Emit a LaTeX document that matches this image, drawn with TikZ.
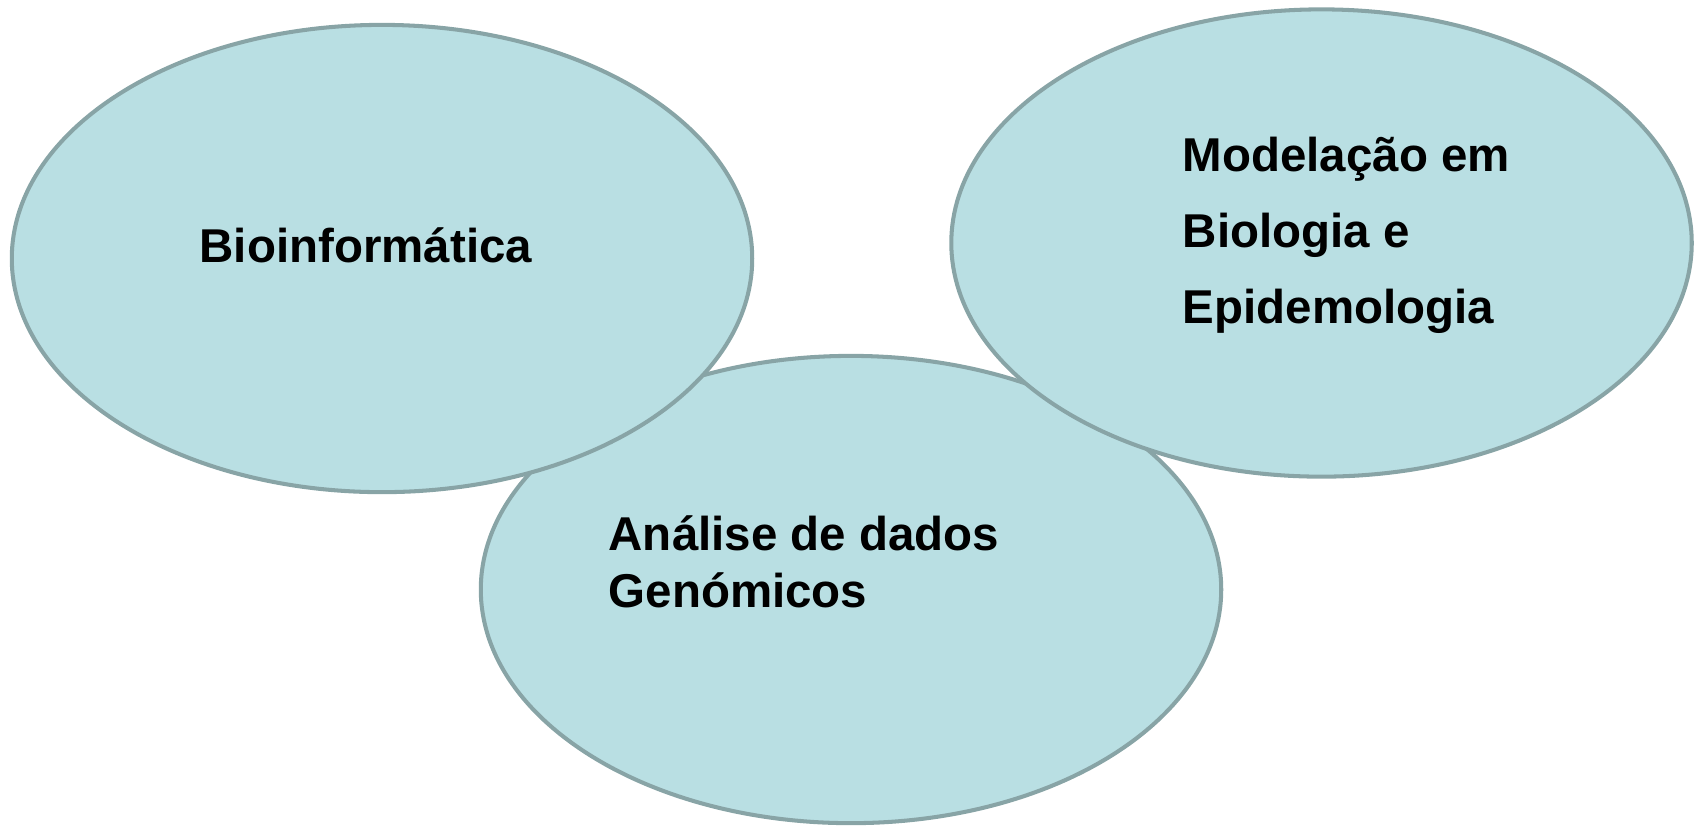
\documentclass[tikz,border=0pt]{standalone}
\usepackage{fontspec}
\setmainfont{Liberation Sans}
\usetikzlibrary{shapes.geometric, positioning}
\definecolor{areafill}{RGB}{185,223,227}
\definecolor{areadraw}{RGB}{136,164,166}

\begin{document}
\begin{tikzpicture}[
    x=0.01cm, y=-0.01cm,
    area/.style={ellipse, draw=areadraw, fill=areafill, line width=1.15pt,
        inner sep=0pt, minimum width=7.40cm, minimum height=4.67cm},
    areatext/.style={anchor=base west, inner sep=0pt, align=left,
        font=\fontsize{13.5}{16.2}\selectfont\bfseries}
]
    \useasboundingbox (0,0) rectangle (1698,826);

    % Areas
    \node[area] (genomica) at (851,589.5) {};
    \node[area] (bioinf) at (382,258.5) {};
    \node[area] (modelacao) at (1321.5,243) {};

    % Labels
    \node[areatext] (bioinf_txt) at (199,262) {Bioinformática};
    \node[areatext] (genomica_txt) at (608,607) {Análise de dados\\Genómicos};
    \node[areatext, font=\fontsize{13.5}{21.6}\selectfont\bfseries] (modelacao_txt)
        at (1182,323) {Modelação em\\Biologia e\\Epidemologia};
\end{tikzpicture}
\end{document}
